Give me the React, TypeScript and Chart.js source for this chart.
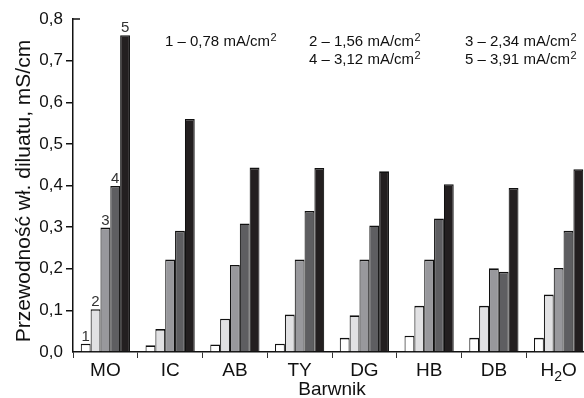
import React, { useEffect, useRef } from "react";
import { Chart, registerables } from "chart.js";

Chart.register(...registerables);

const categories = ["MO", "IC", "AB", "TY", "DG", "HB", "DB", "H2O"];
const series1 = [0.02, 0.016, 0.018, 0.02, 0.034, 0.039, 0.034, 0.034];
const series2 = [0.103, 0.055, 0.08, 0.09, 0.088, 0.111, 0.111, 0.138];
const series3 = [0.299, 0.222, 0.209, 0.222, 0.222, 0.222, 0.201, 0.202];
const series4 = [0.399, 0.291, 0.309, 0.339, 0.304, 0.321, 0.193, 0.291];
const series5 = [0.761, 0.56, 0.443, 0.442, 0.434, 0.403, 0.394, 0.439];
const currents = ["0,78", "1,56", "2,34", "3,12", "3,91"];
const seriesNumbers = ["1", "2", "3", "4", "5"];
const yTitle = "Przewodność wł. diluatu, mS/cm";
const xTitle = "Barwnik";

const FONT = '"Liberation Sans", Arial, Helvetica, sans-serif';
const colors = ["#ffffff", "#e1e1e3", "#98989c", "#5e5e61", "#231f20"];

function drawWithSub(ctx: CanvasRenderingContext2D, text: string, cx: number, baseline: number, size: number) {
  const parts: { t: string; sub: boolean }[] = [];
  for (let i = 0; i < text.length; i++) {
    const ch = text[i];
    const sub = /[0-9]/.test(ch) && i > 0;
    parts.push({ t: ch, sub });
  }
  const big = `${size}px ${FONT}`;
  const small = `${Math.round(size * 0.72)}px ${FONT}`;
  let w = 0;
  parts.forEach((p) => {
    ctx.font = p.sub ? small : big;
    w += ctx.measureText(p.t).width;
  });
  let x = cx - w / 2;
  ctx.textAlign = "left";
  parts.forEach((p) => {
    ctx.font = p.sub ? small : big;
    ctx.fillText(p.t, x, p.sub ? baseline + 5 : baseline);
    x += ctx.measureText(p.t).width;
  });
}

const textPlugin = {
  id: "customTexts",
  afterDraw(chart: any) {
    const ctx: CanvasRenderingContext2D = chart.ctx;
    const xs = chart.scales.x;
    const area = chart.chartArea;
    ctx.save();
    ctx.fillStyle = "#111";
    ctx.textBaseline = "alphabetic";

    categories.forEach((c, i) => {
      drawWithSub(ctx, c, xs.getPixelForValue(i), 376, 19);
    });

    ctx.font = `19px ${FONT}`;
    ctx.textAlign = "center";
    ctx.fillText(xTitle, (area.left + area.right) / 2, 395);

    ctx.save();
    ctx.translate(30, 191);
    ctx.rotate(-Math.PI / 2);
    ctx.font = `21px ${FONT}`;
    ctx.textAlign = "center";
    ctx.fillText(yTitle, 0, 0);
    ctx.restore();

    const pos = [
      [165, 46],
      [309, 46],
      [465, 46],
      [309, 64],
      [465, 64],
    ];
    currents.forEach((c, i) => {
      const [lx, ly] = pos[i];
      ctx.textAlign = "left";
      ctx.font = `15px ${FONT}`;
      const main = `${seriesNumbers[i]} – ${c} mA/cm`;
      ctx.fillText(main, lx, ly);
      const w = ctx.measureText(main).width;
      ctx.font = `11px ${FONT}`;
      ctx.fillText("2", lx + w + 0.5, ly - 5);
    });

    ctx.fillStyle = "#333";
    ctx.font = `15px ${FONT}`;
    ctx.textAlign = "center";
    for (let d = 0; d < 5; d++) {
      const el = chart.getDatasetMeta(d).data[0];
      ctx.fillText(seriesNumbers[d], el.x, el.y - 3);
    }

    ctx.strokeStyle = "#111";
    ctx.lineWidth = 1.5;
    ctx.beginPath();
    ctx.moveTo(area.left, area.top);
    ctx.lineTo(area.left + 7, area.top);
    ctx.stroke();
    ctx.restore();
  },
};

export default function App() {
  const ref = useRef<HTMLCanvasElement | null>(null);

  useEffect(() => {
    if (!ref.current) return;
    const allSeries = [series1, series2, series3, series4, series5];
    const chart = new Chart(ref.current, {
      type: "bar",
      data: {
        labels: categories,
        datasets: allSeries.map((s, i) => ({
          label: seriesNumbers[i],
          data: s,
          backgroundColor: colors[i],
          borderColor: "#111",
          borderWidth: { top: 1.6, left: 1.1, right: 1.1, bottom: 0 },
          borderSkipped: false,
          categoryPercentage: 0.76,
          barPercentage: 1.0,
        })),
      },
      options: {
        responsive: false,
        animation: false,
        events: [],
        layout: { padding: { top: 19, right: 9, bottom: 0, left: 0 } },
        plugins: {
          legend: { display: false },
          tooltip: { enabled: false },
          title: { display: false },
        },
        scales: {
          x: {
            ticks: { display: false },
            grid: {
              offset: true,
              drawOnChartArea: false,
              drawTicks: true,
              tickLength: 6,
              color: "#333",
              lineWidth: 1,
            },
            border: { display: true, color: "#111", width: 1.5 },
            afterFit(scale: any) {
              scale.height = 46;
            },
          },
          y: {
            min: 0,
            max: 0.8,
            ticks: {
              stepSize: 0.1,
              padding: 3,
              color: "#111",
              font: { family: FONT, size: 17 },
              callback: (v: any) => Number(v).toFixed(1).replace(".", ","),
            },
            grid: {
              drawOnChartArea: false,
              drawTicks: true,
              tickLength: 7,
              lineWidth: 1.5,
              color: (c: any) =>
                c.tick && (Math.abs(c.tick.value) < 1e-9 || Math.abs(c.tick.value - 0.8) < 1e-9)
                  ? "rgba(0,0,0,0)"
                  : "#111",
            },
            border: { display: true, color: "#111", width: 1.5 },
            afterFit(scale: any) {
              scale.width = 73;
            },
          },
        },
      },
      plugins: [textPlugin],
    });
    return () => chart.destroy();
  }, []);

  return (
    <div
      style={{
        position: "fixed",
        left: 0,
        top: 0,
        width: 584,
        height: 398,
        overflow: "hidden",
        background: "#fff",
      }}
    >
      <canvas ref={ref} width={600} height={398} style={{ display: "block" }} />
    </div>
  );
}
